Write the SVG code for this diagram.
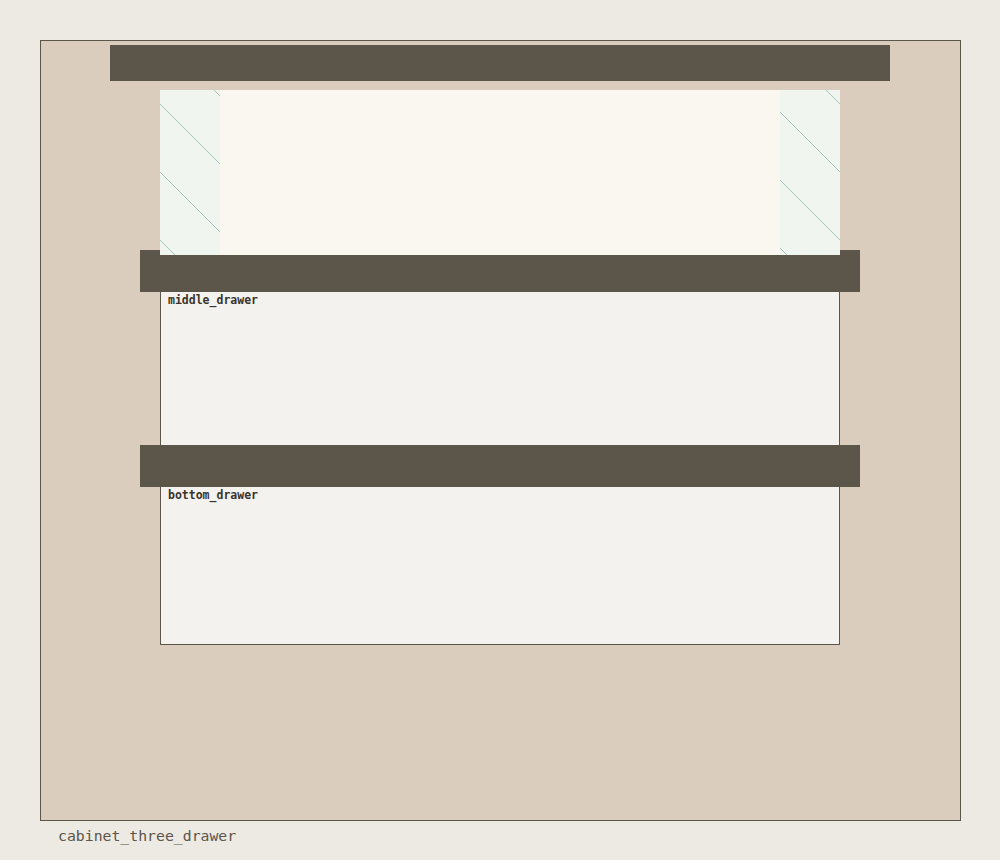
<svg xmlns="http://www.w3.org/2000/svg" width="1000" height="860" viewBox="0 0 1000 860">
<style>
.bar{fill:#5C554A}
.body{fill:#F4F2EE;stroke:#5C554A;stroke-width:1}
.glass{fill:#F0F5EF}
.hatch{stroke:#A2C6B8;stroke-width:1}
.lbl{font-family:"DejaVu Sans Mono","Liberation Mono",monospace;font-weight:bold;font-size:11.5px;fill:#3A342C}
.title{font-family:"DejaVu Sans Mono","Liberation Mono",monospace;font-size:14.8px;fill:#5C554A}
</style>
<defs>
<clipPath id="cl"><rect x="160" y="90" width="60" height="165"/></clipPath>
<clipPath id="cr"><rect x="780" y="90" width="60" height="165"/></clipPath>
</defs>
<rect x="0" y="0" width="1000" height="860" fill="#EDE9E3"/>
<g id="cabinet">
<rect x="40.5" y="40.5" width="920" height="780" fill="#DACDBD" stroke="#5C554A" stroke-width="1"/>
<rect class="bar" x="110" y="45" width="780" height="36"/>
</g>
<g id="bottom_drawer">
<rect class="body" x="160.5" y="450.5" width="679" height="194"/>
<rect class="bar" x="140" y="445" width="720" height="42"/>
<text class="lbl" x="168" y="498.5">bottom_drawer</text>
</g>
<g id="middle_drawer">
<rect class="body" x="160.5" y="255.5" width="679" height="190"/>
<rect class="bar" x="140" y="250" width="720" height="42"/>
<text class="lbl" x="168" y="303.5">middle_drawer</text>
</g>
<g id="top_drawer">
<rect x="160" y="90" width="680" height="165" fill="#FAF7F0"/>
<rect class="glass" x="160" y="90" width="60" height="165"/>
<rect class="glass" x="780" y="90" width="60" height="165"/>
<g clip-path="url(#cl)">
<line class="hatch" x1="140" y1="16" x2="260" y2="136"/>
<line class="hatch" x1="140" y1="84" x2="260" y2="204"/>
<line class="hatch" x1="140" y1="152" x2="260" y2="272"/>
<line class="hatch" x1="140" y1="220" x2="260" y2="340"/>
</g>
<g clip-path="url(#cr)">
<line class="hatch" x1="760" y1="24" x2="880" y2="144"/>
<line class="hatch" x1="760" y1="92" x2="880" y2="212"/>
<line class="hatch" x1="760" y1="160" x2="880" y2="280"/>
<line class="hatch" x1="760" y1="228" x2="880" y2="348"/>
</g>
</g>
<text class="title" x="58" y="841">cabinet_three_drawer</text>
</svg>
